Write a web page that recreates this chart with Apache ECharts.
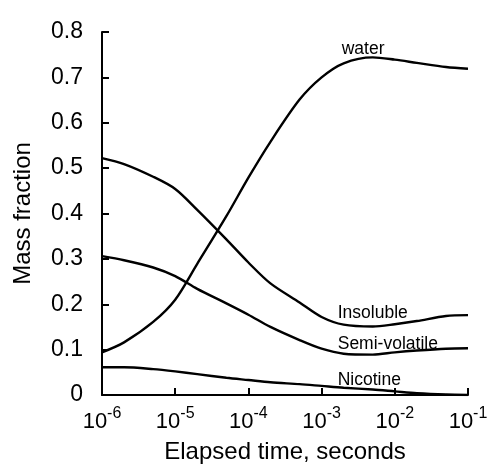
<!DOCTYPE html>
<html>
<head>
<meta charset="utf-8">
<script src="https://cdn.jsdelivr.net/npm/echarts@6/dist/echarts.min.js"></script>
<style>html,body{margin:0;padding:0;background:#fff}#c{width:490px;height:467px}</style>
</head>
<body>
<div id="c"></div>
<script>
var times = [1e-6, 2e-6, 5e-6, 1e-5, 2e-5, 5e-5, 1e-4, 2e-4, 5e-4, 1e-3, 2e-3, 5e-3, 1e-2, 2e-2, 5e-2, 1e-1];
var water = [0.094, 0.116, 0.161, 0.210, 0.289, 0.394, 0.479, 0.558, 0.651, 0.700, 0.731, 0.744, 0.739, 0.732, 0.723, 0.719];
var insoluble = [0.522, 0.509, 0.481, 0.454, 0.408, 0.343, 0.292, 0.246, 0.204, 0.172, 0.155, 0.151, 0.156, 0.163, 0.174, 0.176];
var semiVolatile = [0.306, 0.297, 0.281, 0.262, 0.234, 0.202, 0.177, 0.150, 0.121, 0.102, 0.091, 0.089, 0.094, 0.098, 0.102, 0.103];
var nicotine = [0.061, 0.061, 0.057, 0.052, 0.046, 0.038, 0.033, 0.028, 0.024, 0.020, 0.016, 0.012, 0.008, 0.004, 0.001, 0.000];
var seriesNames = ['water', 'Insoluble', 'Semi-volatile', 'Nicotine'];
var labelAnchors = [[1.88e-3, 0.762], [1.66e-3, 0.181], [1.66e-3, 0.112], [1.66e-3, 0.033]];
var yTickLabels = ['0', '0.1', '0.2', '0.3', '0.4', '0.5', '0.6', '0.7', '0.8'];

var font = '"Liberation Sans", Arial, Helvetica, sans-serif';
function pairs(vals) { return times.map(function (t, i) { return [t, vals[i]]; }); }
var allVals = [water, insoluble, semiVolatile, nicotine];

var chart = echarts.init(document.getElementById('c'), null, { renderer: 'canvas' });
chart.setOption({
  animation: false,
  backgroundColor: '#fff',
  grid: { left: 102, right: 22, top: 32, bottom: 72, containLabel: false, outerBoundsMode: 'none' },
  xAxis: {
    type: 'log', logBase: 10, min: 1e-6, max: 1e-1, interval: 1,
    name: 'Elapsed time, seconds', nameLocation: 'middle', nameGap: 45,
    nameTextStyle: { fontFamily: font, fontSize: 24, color: '#000' },
    axisLine: { lineStyle: { color: '#000', width: 2 } },
    axisTick: { inside: true, length: 7, lineStyle: { color: '#000', width: 2 } },
    splitLine: { show: false },
    axisLabel: {
      margin: 11,
      formatter: function (v) { return '{b|10}{s|' + Math.round(Math.log10(v)) + '}'; },
      rich: {
        b: { fontFamily: font, fontSize: 22, color: '#000', lineHeight: 27, verticalAlign: 'bottom' },
        s: { fontFamily: font, fontSize: 16, color: '#000', lineHeight: 27, verticalAlign: 'top' }
      }
    }
  },
  yAxis: {
    type: 'value', min: 0, max: 0.8, interval: 0.1,
    name: 'Mass fraction', nameLocation: 'middle', nameGap: 67, nameRotate: 90,
    nameTextStyle: { fontFamily: font, fontSize: 24, color: '#000' },
    axisLine: { show: true, lineStyle: { color: '#000', width: 2 } },
    axisTick: { show: true, inside: true, length: 7, lineStyle: { color: '#000', width: 2 } },
    splitLine: { show: false },
    axisLabel: {
      margin: 19, fontFamily: font, fontSize: 23, color: '#000', padding: [0, 0, 12, 0],
      formatter: function (v) { return yTickLabels[Math.round(v * 10)]; }
    }
  },
  series: allVals.map(function (vals, i) {
    return {
      name: seriesNames[i], type: 'line', data: pairs(vals), smooth: 0.3,
      symbol: 'none', lineStyle: { color: '#000', width: 2.4 },
      markPoint: {
        symbol: 'circle', symbolSize: 0,
        data: [{ coord: labelAnchors[i] }],
        label: { show: true, position: 'right', distance: 0, formatter: seriesNames[i],
          fontFamily: font, fontSize: 17.5, color: '#000' }
      }
    };
  })
});
</script>
</body>
</html>
